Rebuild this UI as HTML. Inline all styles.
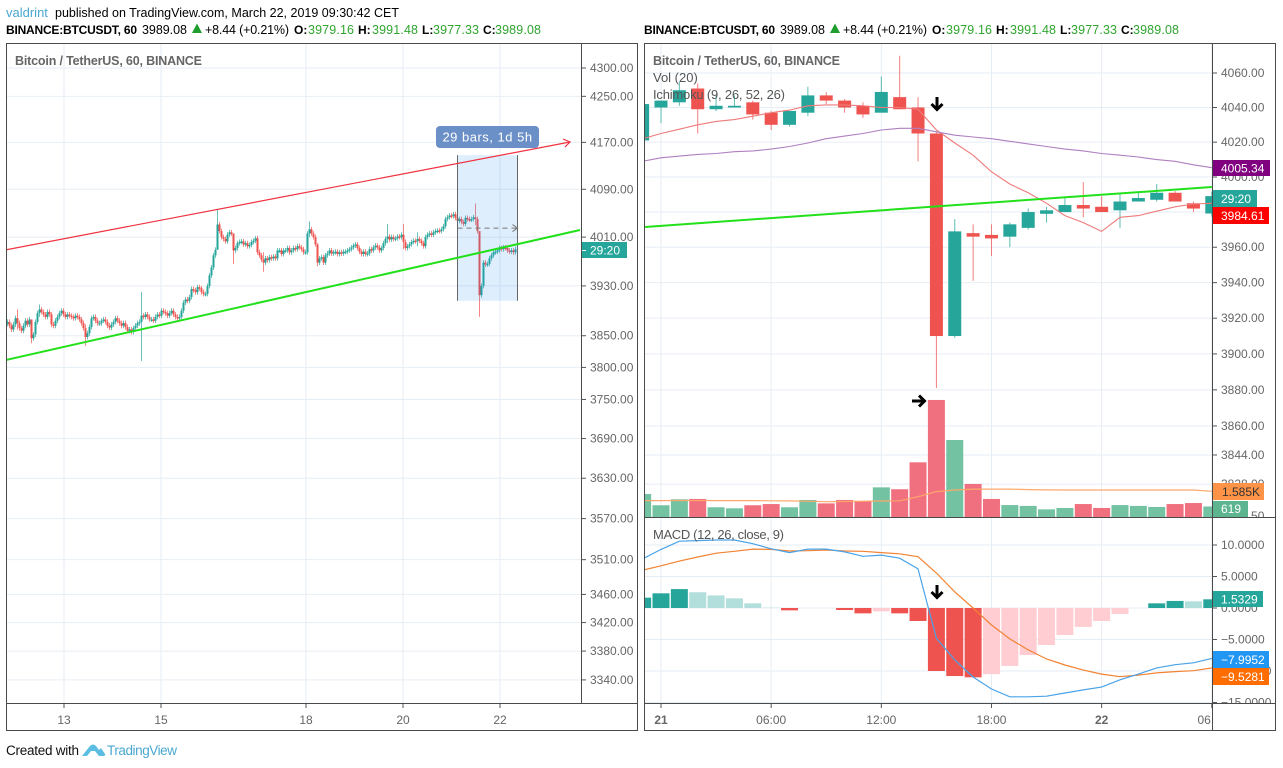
<!DOCTYPE html>
<html lang="en">
<head>
<meta charset="utf-8">
<title>BTCUSDT chart</title>
<style>
html,body{margin:0;padding:0;background:#fff;width:1283px;height:768px;overflow:hidden}
svg{display:block;font-family:"Liberation Sans",Arial,sans-serif}
.ax{font-size:12px;fill:#666}
.tg{font-size:12px;fill:#fff}
.lg{font-size:13px;fill:#555}
.hd{font-size:12.5px;fill:#000}
.hdb{font-size:12px;fill:#000;font-weight:bold}
.hdv{font-size:12.5px;fill:#2fa52f}
</style>
</head>
<body>
<svg id="chart" width="1283" height="768" viewBox="0 0 1283 768" xmlns="http://www.w3.org/2000/svg">
<defs>
<clipPath id="clipL"><rect x="7" y="44" width="574" height="660"/></clipPath>
<clipPath id="clipR"><rect x="645" y="44" width="567" height="473"/></clipPath>
<clipPath id="clipM"><rect x="645" y="518" width="567" height="185"/></clipPath>
<clipPath id="clipRA"><rect x="1213" y="44" width="63" height="473"/></clipPath>
<clipPath id="clipMA"><rect x="1213" y="518" width="63" height="185"/></clipPath>
<clipPath id="clipT"><rect x="645" y="705" width="567" height="26"/></clipPath>
</defs>

<g>
<text x="6" y="17" style="font-size:13px;fill:#4aa8d0">valdrint</text>
<text x="55" y="17" class="hd" textLength="344">published on TradingView.com, March 22, 2019 09:30:42 CET</text>
</g>
<g>
<text x="6" y="34" class="hdb" textLength="131">BINANCE:BTCUSDT, 60</text>
<text x="142" y="34" class="hd" textLength="45">3989.08</text>
<polygon points="192,33 202,33 197,23.5" fill="#1e9e2e"/>
<text x="205" y="34" class="hd" textLength="84">+8.44 (+0.21%)</text>
<text x="294" y="34" class="hdb">O:</text>
<text x="308" y="34" class="hdv" textLength="46">3979.16</text>
<text x="358" y="34" class="hdb">H:</text>
<text x="372" y="34" class="hdv" textLength="46">3991.48</text>
<text x="422" y="34" class="hdb">L:</text>
<text x="433" y="34" class="hdv" textLength="46">3977.33</text>
<text x="483" y="34" class="hdb">C:</text>
<text x="495" y="34" class="hdv" textLength="46">3989.08</text>
</g>
<g>
<text x="644" y="34" class="hdb" textLength="131">BINANCE:BTCUSDT, 60</text>
<text x="780" y="34" class="hd" textLength="45">3989.08</text>
<polygon points="830,33 840,33 835,23.5" fill="#1e9e2e"/>
<text x="843" y="34" class="hd" textLength="84">+8.44 (+0.21%)</text>
<text x="932" y="34" class="hdb">O:</text>
<text x="946" y="34" class="hdv" textLength="46">3979.16</text>
<text x="996" y="34" class="hdb">H:</text>
<text x="1010" y="34" class="hdv" textLength="46">3991.48</text>
<text x="1060" y="34" class="hdb">L:</text>
<text x="1071" y="34" class="hdv" textLength="46">3977.33</text>
<text x="1121" y="34" class="hdb">C:</text>
<text x="1133" y="34" class="hdv" textLength="46">3989.08</text>
</g>

<g id="gridL" clip-path="url(#clipL)"></g>
<g id="candlesL" clip-path="url(#clipL)"></g>
<g id="drawL" clip-path="url(#clipL)"></g>
<g id="axisL"></g>

<g id="gridR"></g>
<g id="volR" clip-path="url(#clipR)"></g>
<g id="candlesR" clip-path="url(#clipR)"></g>
<g id="linesR" clip-path="url(#clipR)"></g>
<g id="histM" clip-path="url(#clipM)"></g>
<g id="linesM" clip-path="url(#clipM)"></g>
<g id="axisR" clip-path="url(#clipRA)"></g>
<g id="axisM" clip-path="url(#clipMA)"></g>
<g id="axisT"></g>

<g fill="none" stroke="#4a4a4a" stroke-width="1">
<rect x="6.5" y="43.5" width="631" height="687"/>
<line x1="581.5" y1="44" x2="581.5" y2="704"/>
<line x1="7" y1="703.5" x2="638" y2="703.5"/>
<rect x="644.5" y="43.5" width="631" height="687"/>
<line x1="1212.5" y1="44" x2="1212.5" y2="731"/>
<line x1="645" y1="703.5" x2="1276" y2="703.5"/>
<line x1="645" y1="517.5" x2="1276" y2="517.5"/>
</g>

<g>
<rect x="436" y="126" width="103" height="22" rx="4" fill="#6b8fc7"/>
<text x="487.5" y="141.5" text-anchor="middle" fill="#fff" font-size="13" letter-spacing=".5">29 bars, 1d 5h</text>
</g>

<g>
<rect x="582" y="242" width="45" height="16" fill="#26a69a"/>
<line x1="582" y1="250.5" x2="586" y2="250.5" stroke="#fff"/>
<text x="590" y="254.5" class="tg">29:20</text>
</g>

<g>
<rect x="1213" y="160" width="57" height="16" fill="#800080"/>
<text x="1221" y="172.5" class="tg">4005.34</text>
</g>
<g>
<rect x="1213" y="190" width="44" height="17" fill="#26a69a"/>
<text x="1221" y="203" class="tg">29:20</text>
</g>
<g>
<rect x="1213" y="207" width="56" height="17" fill="#ff0000"/>
<text x="1221" y="220" class="tg">3984.61</text>
</g>
<g>
<rect x="1213" y="483" width="51" height="17" fill="#ff9347"/>
<text x="1222" y="496" font-size="12" fill="#333">1.585K</text>
</g>
<g>
<rect x="1213" y="501" width="35" height="16" fill="#5cb58f"/>
<text x="1221" y="513" class="tg">619</text>
</g>
<g>
<rect x="1213" y="591" width="50" height="16" fill="#26a69a"/>
<text x="1221" y="603.5" class="tg">1.5329</text>
</g>
<g>
<rect x="1213" y="651" width="56" height="17" fill="#2196f3"/>
<text x="1221" y="664" class="tg">−7.9952</text>
</g>
<g>
<rect x="1213" y="668" width="56" height="17" fill="#ff6d00"/>
<text x="1221" y="681" class="tg">−9.5281</text>
</g>

<text x="15" y="65" font-size="12.5" font-weight="bold" fill="#666" textLength="187">Bitcoin / TetherUS, 60, BINANCE</text>
<text x="653" y="65" font-size="12.5" font-weight="bold" fill="#666" textLength="187">Bitcoin / TetherUS, 60, BINANCE</text>
<text x="653" y="82" class="lg">Vol (20)</text>
<text x="653" y="99" class="lg" textLength="132">Ichimoku (9, 26, 52, 26)</text>
<text x="653" y="539" class="lg" textLength="131">MACD (12, 26, close, 9)</text>

<g fill="none" stroke="#000" stroke-width="3">
<path d="M937 97V109M931.5 104L937 109.5L942.5 104"/>
<path d="M912 401H924M919 395.5L924.5 401L919 406.5"/>
<path d="M937 585V597M931.5 592L937 597.5L942.5 592"/>
</g>

<g>
<text x="6" y="755" font-size="13.5" fill="#111" textLength="73">Created with</text>
<path d="M82 756L90 746Q93 743 96 746L99 750L101 748L105 754Q106 756 103 756L99 756L95 751L91 751L87 756Z" fill="#5cbde2"/>
<text x="107" y="755" font-size="13.5" fill="#4aa8d0" textLength="70">TradingView</text>
</g>

<script>
// ---------- left chart data ----------
const leftPriceTicks = [4300,4250,4170,4090,4010,3930,3850,3800,3750,3690,3630,3570,3510,3460,3420,3380,3340];
const leftDayLabels = ['13','15','18','20','22'];
const leftDayBars = [28.25,76.75,149.25,197.75,246.25];
const leftCloses = [
3872,3866,3860,3868,3878,3870,3862,3858,3866,3874,3868,3876,
3846,3852,3872,3886,3892,3888,3884,3880,3888,3884,3868,3866,
3874,3880,3886,3890,3884,3880,3884,3882,3880,3878,3882,3880,
3876,3870,3862,3848,3854,3864,3878,3880,3874,3870,3870,3874,
3876,3872,3866,3863,3868,3872,3878,3874,3870,3866,3870,3864,
3858,3860,3856,3862,3866,3870,3872,3882,3880,3884,3880,3876,
3876,3874,3880,3884,3882,3890,3888,3886,3882,3886,3890,3884,3880,3878,
3880,3890,3903,3908,3906,3912,3925,3923,3920,3928,3926,3920,3917,3917,
3930,3947,3960,3980,3989,4031,
4020,4010,4007,4003,4014,4018,4016,3988,3992,4000,4002,4003,3998,4000,3995,3997,4002,4004,4008,
3985,3980,3973,3968,3975,3972,3977,3975,3978,3975,3988,3988,3982,3988,3988,3992,3985,3988,3992,3990,3995,3993,3990,3985,3985,
4016,4023,4016,4010,3998,3968,3975,3977,3968,3980,3983,3988,3983,3985,3986,3982,3985,3983,3986,3986,3988,3990,3993,3996,3998,3992,3986,3982,3986,3982,3983,3990,3988,3993,3996,3993,3988,3992,4000,4007,4011,4006,4010,4007,4008,4011,4010,4014,
4002,3992,3995,3998,4002,4004,4003,4007,4004,4000,3995,4010,4014,4016,4014,4018,4020,4021,4020,4023,4028,4040,4043,4046,4045,4048,4042,4037,4040,4035,4032,4042,4040,4039,4040,4043,4040,4020,
3915,3930,3968,3965,3966,3975,3980,3985,3986,3988,3992,3990,3993,3992,3988,3986,3988,3985,3990];
const leftSpikeBars = [5,12,16,39,67,105,113,128,151,155,190,198,205,234,236];
const leftSpikeHighs = [3892,3870,3900,3868,3920,4056,4016,3985,4036,4000,4032,4032,4018,4066,4020];
const leftSpikeLows = [3860,3838,3880,3834,3810,4020,3966,3953,4010,3962,4000,3990,3995,4030,3880];
const leftWick = 4;
const leftGreenTrendBars = [-0.75,286.25];
const leftGreenTrendPrices = [3811.6,4021.8];
const leftRedTrendBars = [-0.75,281.25];
const leftRedTrendPrices = [3989,4170.6];
const measureBars = [225,255];
const measurePrices = [4148,3906];
const measureMidPrice = 4025;

// ---------- right chart data (bars start one hour before the "21" tick) ----------
const rightFirstBar = -1;
const rightOpens  = [4021,4040,4043,4051,4039,4040,4043,4037,4030,4037,4047,4044,4041,4037,4046,4040,4025,3910,3968,3967,3966,3971,3979,3980,3984,3983,3981,3986,3987,3991,3985,3979.16];
const rightHighs  = [4043,4044,4055,4054,4047,4047,4044,4038,4038,4052,4049,4045,4043,4058,4070,4046,4026,3976,3973,3973,3974,3982,3983,3988,3997,3989,3990,3991,3996,3992,3986,3991.48];
const rightLows   = [4020,4031,4041,4025,4038,4040,4033,4027,4029,4035,4042,4037,4034,4037,4039,4009,3881,3909,3941,3955,3960,3970,3974,3980,3977,3980,3971,3986,3986,3986,3980,3977.33];
const rightCloses = [4042,4044,4050,4039,4041,4041,4036,4030,4038,4047,4044,4040,4036,4049,4039,4025,3910,3969,3966,3965,3973,3980,3981,3984,3982,3980,3986,3988,3991,3986,3982,3989.08];
const rightPriceTicks = [4060,4040,4020,4000,3980,3960,3940,3920,3900,3880,3860,3844,3828,3810.5];
const rightTimeLabels = ['21','06:00','12:00','18:00','22','06'];
const rightTimeBars = [0,6,12,18,24,30];
const rightTimeBold = [true,false,false,false,true,false];
const laggingLine = [4022,4025,4027.5,4030,4032,4033,4035,4037,4038.5,4041,4041.5,4041.5,4041,4040,4040,4039,4027,4019.5,4012.5,4003,3996,3991,3985,3978,3974,3969,3977,3978,3980.5,3983,3984.6,3985];
const cloudLine = [4009,4011,4012,4013,4013.5,4014.5,4015,4016,4017.5,4019.5,4022,4023.5,4025,4027,4028,4028,4026,4024,4023,4022,4020.5,4019,4017.5,4016,4015,4013.5,4012.5,4011.5,4010,4009,4007,4005.34];
const rightTrendBars = [-0.87,30];
const rightTrendPrices = [3971.5,3994.3];
const volumes = [1350,690,1040,1060,570,510,690,760,570,1000,800,1000,920,1740,1630,3210,6870,4520,1940,1060,700,650,450,530,760,530,700,650,590,760,820,619];
const volumeMA = [960,960,970,970,965,960,960,950,945,930,900,910,930,940,950,1190,1490,1585,1640,1640,1640,1610,1590,1585,1585,1585,1585,1585,1585,1585,1585,1510];
const macdTicks = [10,5,0,-5,-10,-15];
const macdHist = [1.64,2.33,3.0,2.5,2.0,1.53,0.74,0.05,-0.37,-0.02,-0.02,-0.32,-0.85,-0.53,-0.85,-2.06,-10.0,-10.8,-11.0,-10.5,-9.2,-7.46,-5.87,-4.29,-3.0,-2.06,-0.95,0,0.74,1.12,1.06,1.38];
const macdLine = [7.8,9.3,10.6,10.7,10.8,10.8,10.2,9.4,8.8,9.35,9.35,8.9,8.2,8.4,7.9,6.2,-4.8,-8.25,-10.95,-12.85,-14.1,-14.1,-14.0,-13.5,-13,-12.55,-11.4,-10.5,-9.5,-9,-8.7,-7.9952];
const signalLine = [6.0,6.7,7.45,8.1,8.7,9,9.35,9.3,9.05,9.1,9.2,9.05,9,8.8,8.6,8.15,5.55,2.55,0,-2.7,-4.9,-6.65,-8.1,-9.05,-9.85,-10.5,-10.9,-10.65,-10.3,-10.1,-9.95,-9.5281];

// ---------- axis functions ----------
const xL = b => 7.5 + 2 * b;
const yL = p => 68 + 2422 * Math.log(4300 / p);
const xR = i => 661 + 18.36 * i;
const yR = p => 73 + 6987 * Math.log(4060 / p);
const yV = v => 517 - v / 58.7;
const yM = m => 608 - 6.3 * m;

const NS = 'http://www.w3.org/2000/svg';
const UP = '#26a69a', DOWN = '#ef5350', GRID = '#e6eef5';
function mk(parent, tag, props, text) {
  const el = document.createElementNS(NS, tag);
  for (const k in props) el.setAttribute(k, props[k]);
  if (text !== undefined) el.textContent = text;
  document.getElementById(parent).appendChild(el);
  return el;
}
function polyPoints(values, xf, yf, first) {
  return values.map((v, n) => xf(n + first).toFixed(1) + ',' + yf(v).toFixed(1)).join(' ');
}

// left grid + axis
leftPriceTicks.forEach(p => {
  const g = mk('gridL', 'line', {x1: 7, x2: 581, y1: yL(p), y2: yL(p), stroke: GRID});
  
  
  const t = mk('axisL', 'line', {x1: 582, x2: 586, y1: yL(p), y2: yL(p), stroke: '#555'});
  
  
  const l = mk('axisL', 'text', {x: 590, y: yL(p) + 4, class: 'ax'}, p.toFixed(2));
  
  
});
leftDayBars.forEach((b, n) => {
  const g = mk('gridL', 'line', {x1: xL(b), x2: xL(b), y1: 44, y2: 703, stroke: GRID});
  
  
  const t = mk('axisT', 'line', {x1: xL(b), x2: xL(b), y1: 704, y2: 708, stroke: '#555'});
  
  
  const l = mk('axisT', 'text', {x: xL(b), y: 724, class: 'ax', 'text-anchor': 'middle'}, leftDayLabels[n]);
  
  
});

// left candles
leftCloses.forEach((c, b) => {
  const o = b ? leftCloses[b - 1] : c - 3;
  const s = leftSpikeBars.indexOf(b);
  const hi = s >= 0 ? leftSpikeHighs[s] : Math.max(o, c) + leftWick;
  const lo = s >= 0 ? leftSpikeLows[s] : Math.min(o, c) - leftWick;
  const col = c >= o ? UP : DOWN;
  const w = mk('candlesL', 'line', {x1: xL(b), x2: xL(b), y1: yL(hi), y2: yL(lo), stroke: col, 'stroke-width': 1, 'stroke-opacity': .7});
  
  
  const top = yL(Math.max(o, c)), bot = yL(Math.min(o, c));
  const r = mk('candlesL', 'rect', {x: xL(b) - 1, width: 2, y: top, height: Math.max(bot - top, 1.5), fill: col});
  
  
});

// left drawings
const mx1 = xL(measureBars[0]), mx2 = xL(measureBars[1]);
const my1 = yL(measurePrices[0]), my2 = yL(measurePrices[1]), mym = yL(measureMidPrice);
const box = mk('drawL', 'rect', {x: mx1, y: my1, width: mx2 - mx1, height: my2 - my1, fill: 'rgba(33,140,243,.15)'});


[mx1, mx2].forEach(x => {
  const e = mk('drawL', 'line', {x1: x, x2: x, y1: my1, y2: my2, stroke: '#666'});
  
  
});
const da = mk('drawL', 'line', {x1: mx1, x2: mx2, y1: mym, y2: mym, stroke: '#777', 'stroke-dasharray': '5 4'});


const dh = mk('drawL', 'polyline', {points: (mx2 - 5) + ',' + (mym - 3.5) + ' ' + mx2 + ',' + mym + ' ' + (mx2 - 5) + ',' + (mym + 3.5), fill: 'none', stroke: '#777'});


const redT = mk('drawL', 'line', {x1: xL(leftRedTrendBars[0]), y1: yL(leftRedTrendPrices[0]), x2: xL(leftRedTrendBars[1]), y2: yL(leftRedTrendPrices[1]), stroke: '#f0313f', 'stroke-width': 1.2});


const rex = xL(leftRedTrendBars[1]), rey = yL(leftRedTrendPrices[1]);
const redH = mk('drawL', 'polyline', {points: (rex - 7) + ',' + (rey - 3) + ' ' + rex + ',' + rey + ' ' + (rex - 5) + ',' + (rey + 5), fill: 'none', stroke: '#f0313f', 'stroke-width': 1.2});


const greenT = mk('drawL', 'line', {x1: xL(leftGreenTrendBars[0]), y1: yL(leftGreenTrendPrices[0]), x2: xL(leftGreenTrendBars[1]), y2: yL(leftGreenTrendPrices[1]), stroke: '#22e01a', 'stroke-width': 2});



// right grid + axes
rightPriceTicks.forEach(p => {
  const g = mk('gridR', 'line', {x1: 645, x2: 1212, y1: yR(p), y2: yR(p), stroke: GRID});
  
  
  const t = mk('axisR', 'line', {x1: 1213, x2: 1217, y1: yR(p), y2: yR(p), stroke: '#555'});
  
  
  const l = mk('axisR', 'text', {x: 1221, y: yR(p) + 4, class: 'ax'}, p.toFixed(2));
  
  
});
macdTicks.forEach(m => {
  const g = mk('gridR', 'line', {x1: 645, x2: 1212, y1: yM(m), y2: yM(m), stroke: GRID});
  
  
  const t = mk('axisM', 'line', {x1: 1213, x2: 1217, y1: yM(m), y2: yM(m), stroke: '#555'});
  
  
  const l = mk('axisM', 'text', {x: 1221, y: yM(m) + 4, class: 'ax'}, (m < 0 ? '−' : '') + Math.abs(m).toFixed(4));
  
  
});
rightTimeBars.forEach((b, n) => {
  const g = mk('gridR', 'line', {x1: xR(b), x2: xR(b), y1: 44, y2: 703, stroke: GRID});
  
  
  const t = mk('axisT', 'line', {x1: xR(b), x2: xR(b), y1: 704, y2: 708, stroke: '#555'});
  
  
  const last = n === rightTimeBars.length - 1;
  const l = mk('axisT', 'text', {x: last ? xR(b) - 1 : xR(b), y: 724, class: 'ax', 'text-anchor': last ? 'end' : 'middle', 'font-weight': rightTimeBold[n] ? 'bold' : 'normal', 'clip-path': 'url(#clipT)'}, rightTimeLabels[n]);
  
  
});

// volume
volumes.forEach((v, n) => {
  const i = n + rightFirstBar;
  const up = rightCloses[n] >= rightOpens[n];
  const r = mk('volR', 'rect', {x: xR(i) - 8.5, width: 17, y: yV(v), height: 517 - yV(v), fill: up ? '#73c3a2' : '#f1707f'});
  
  
});
const vma = mk('volR', 'polyline', {points: polyPoints(volumeMA, xR, yV, rightFirstBar), fill: 'none', stroke: '#ffa76b', 'stroke-width': 1.2});



// right candles
rightCloses.forEach((c, n) => {
  const i = n + rightFirstBar, o = rightOpens[n];
  const col = c >= o ? UP : DOWN;
  const w = mk('candlesR', 'line', {x1: xR(i), x2: xR(i), y1: yR(rightHighs[n]), y2: yR(rightLows[n]), stroke: col, 'stroke-width': 1, 'stroke-opacity': .75});
  
  
  const top = yR(Math.max(o, c)), bot = yR(Math.min(o, c));
  const r = mk('candlesR', 'rect', {x: xR(i) - 6.5, width: 13, y: top, height: Math.max(bot - top, 1), fill: col});
  
  
});

// ichimoku + trend
const lagL = mk('linesR', 'polyline', {points: polyPoints(laggingLine, xR, yR, rightFirstBar), fill: 'none', stroke: '#ef7a7a', 'stroke-width': 1.1});


const cloL = mk('linesR', 'polyline', {points: polyPoints(cloudLine, xR, yR, rightFirstBar), fill: 'none', stroke: '#b07fc0', 'stroke-width': 1.1});


const rt = mk('linesR', 'line', {x1: xR(rightTrendBars[0]), y1: yR(rightTrendPrices[0]), x2: xR(rightTrendBars[1]), y2: yR(rightTrendPrices[1]), stroke: '#22e01a', 'stroke-width': 2});



// MACD
macdHist.forEach((h, n) => {
  const i = n + rightFirstBar;
  const prev = n ? macdHist[n - 1] : h - 1;
  const col = h >= 0 ? (h >= prev ? '#26a69a' : '#b2dfdb') : (h < prev ? '#ef5350' : '#ffcdd2');
  const top = Math.min(yM(h), yM(0)), bot = Math.max(yM(h), yM(0));
  const r = mk('histM', 'rect', {x: xR(i) - 8.5, width: 17, y: top, height: bot - top, fill: col});
  
  
});
const sigL = mk('linesM', 'polyline', {points: polyPoints(signalLine, xR, yM, rightFirstBar), fill: 'none', stroke: '#f28233', 'stroke-width': 1.2});


const macL = mk('linesM', 'polyline', {points: polyPoints(macdLine, xR, yM, rightFirstBar), fill: 'none', stroke: '#4aa3e8', 'stroke-width': 1.2});


</script>
</svg>
</body>
</html>
